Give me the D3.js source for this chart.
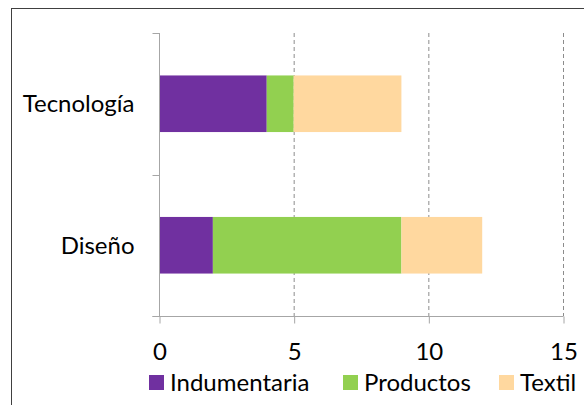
<!DOCTYPE html>
<html>
<head>
<meta charset="utf-8">
<script src="https://cdn.jsdelivr.net/npm/d3@7"></script>
<style>
  html, body { margin: 0; padding: 0; background: #fff; }
  svg { display: block; font-family: Lato, "Open Sans", sans-serif; }
</style>
</head>
<body>
<svg id="chart" width="584" height="405"></svg>
<script>
// Categories (top to bottom) and stacked series values
const categories = ["Tecnología", "Diseño"];
const seriesNames = ["Indumentaria", "Productos", "Textil"];
const indumentaria = [4, 2];
const productos = [1, 7];
const textil = [4, 3];
const xTicks = [0, 5, 10, 15];
const colors = ["#7030A0", "#92D050", "#FFD89F"];

const fontSize = 24;

const rows = categories.map((c, i) => ({
  cat: c,
  Indumentaria: indumentaria[i],
  Productos: productos[i],
  Textil: textil[i]
}));

const svg = d3.select("#chart");

// chart frame
svg.append("rect")
  .attr("x", 11.5).attr("y", 8.5)
  .attr("width", 620).attr("height", 420)
  .attr("fill", "none").attr("stroke", "#404040").attr("stroke-width", 1);

const plotL = 159, plotR = 563, plotT = 33, plotB = 316;

const x = d3.scaleLinear().domain([0, 15]).range([plotL, plotR]);
const y = d3.scaleBand().domain(categories).range([plotT, plotB]).paddingInner(0.6).paddingOuter(0.3);
const yOuter = d3.scaleBand().domain(categories).range([plotT, plotB]);

// dashed vertical gridlines
svg.append("g").selectAll("line")
  .data(xTicks.filter(t => t > 0))
  .join("line")
  .attr("x1", d => x(d) + 0.5).attr("x2", d => x(d) + 0.5)
  .attr("y1", plotT).attr("y2", plotB)
  .attr("stroke", "#8c8c8c").attr("stroke-width", 1)
  .attr("stroke-dasharray", "4,3");

// stacked bars
const stack = d3.stack().keys(seriesNames);
const layers = stack(rows);
svg.append("g").selectAll("g")
  .data(layers)
  .join("g")
  .attr("fill", (d, i) => colors[i])
  .selectAll("rect")
  .data(d => d)
  .join("rect")
  .attr("x", d => x(d[0]))
  .attr("width", d => x(d[1]) - x(d[0]))
  .attr("y", d => y(d.data.cat))
  .attr("height", y.bandwidth());

// value axis
const xAxis = d3.axisBottom(x).tickValues(xTicks).tickSize(7).tickPadding(19).tickFormat(d3.format("d"));
const gx = svg.append("g").attr("transform", `translate(0.5,${plotB + 0.5})`).call(xAxis);
gx.select(".domain").attr("d", `M${plotL - 7},0H${plotR}`).attr("stroke", "#a6a6a6");
gx.selectAll(".tick line").attr("stroke", "#a6a6a6");
gx.selectAll(".tick text").attr("font-size", fontSize).attr("fill", "#000").attr("font-family", "Lato, sans-serif");

// category axis
const gy = svg.append("g").attr("transform", `translate(${plotL + 0.5},0)`);
gy.append("line")
  .attr("x1", 0).attr("x2", 0).attr("y1", plotT).attr("y2", plotB)
  .attr("stroke", "#a6a6a6");
const bounds = [plotT, ...categories.map(c => yOuter(c) + yOuter.bandwidth())];
gy.selectAll("line.tk")
  .data(bounds)
  .join("line")
  .attr("class", "tk")
  .attr("x1", -7).attr("x2", 0)
  .attr("y1", d => Math.round(d) + 0.5).attr("y2", d => Math.round(d) + 0.5)
  .attr("stroke", "#a6a6a6");
gy.selectAll("text")
  .data(categories)
  .join("text")
  .attr("x", -25)
  .attr("y", d => y(d) + y.bandwidth() / 2)
  .attr("dy", "0.35em")
  .attr("text-anchor", "end")
  .attr("font-size", fontSize)
  .attr("fill", "#000")
  .text(d => d);

// legend
const legendX = [149, 343, 499];
const lg = svg.append("g").selectAll("g")
  .data(seriesNames)
  .join("g")
  .attr("transform", (d, i) => `translate(${legendX[i]},375)`);
lg.append("rect").attr("width", 15).attr("height", 15).attr("fill", (d, i) => colors[i]);
lg.append("text")
  .attr("x", 21).attr("y", 7.5).attr("dy", "0.35em")
  .attr("font-size", fontSize).attr("fill", "#000")
  .text(d => d);
</script>
</body>
</html>
